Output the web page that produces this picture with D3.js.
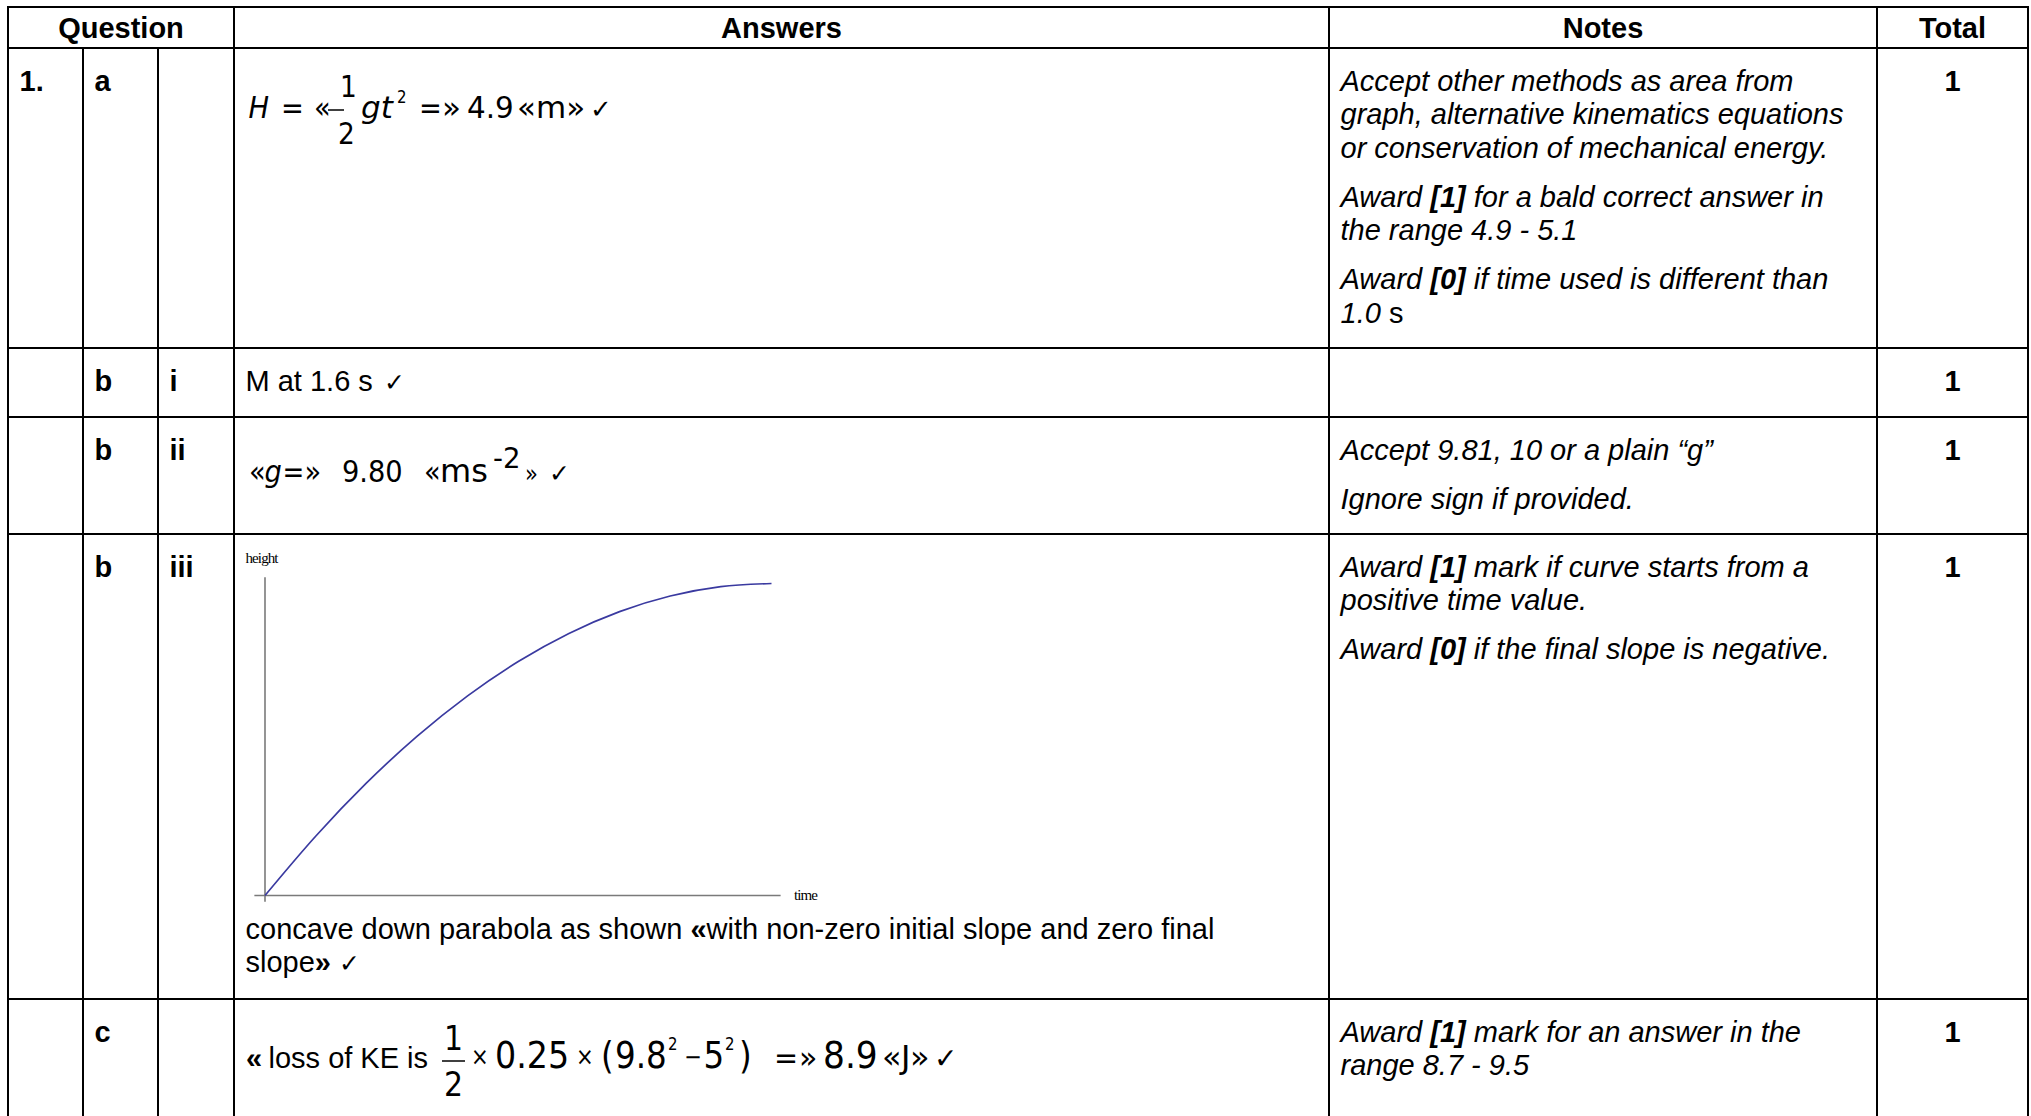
<!DOCTYPE html>
<html>
<head>
<meta charset="utf-8">
<script src="https://cdn.jsdelivr.net/npm/d3@7"></script>
<style>
  body { margin: 0; background: #fff; }
  svg { display: block; }
</style>
</head>
<body>
<script>
// ---------------- data ----------------
const headers = ["Question", "Answers", "Notes", "Total"];
const questionNumbers = ["1.", "", "", "", ""];
const parts = ["a", "b", "b", "b", "c"];
const subparts = ["", "i", "ii", "iii", ""];
const totals = [1, 1, 1, 1, 1];

// notes: paragraphs -> lines  (**bold**, __upright__)
const notesA = [
  ["Accept other methods as area from", "graph, alternative kinematics equations", "or conservation of mechanical energy."],
  ["Award **[1]** for a bald correct answer in", "the range 4.9 - 5.1"],
  ["Award **[0]** if time used is different than", "1.0 __s__"]
];
const notesBi = [];
const notesBii = [["Accept 9.81, 10 or a plain “g”"], ["Ignore sign if provided."]];
const notesBiii = [["Award **[1]** mark if curve starts from a", "positive time value."], ["Award **[0]** if the final slope is negative."]];
const notesC = [["Award **[1]** mark for an answer in the", "range 8.7 - 9.5"]];
const notesAll = [notesA, notesBi, notesBii, notesBiii, notesC];

const answerBi = "M at 1.6 s";
const answerBiiiLines = ["concave down parabola as shown **«**with non-zero initial slope and zero final", "slope**»** ✓"];

// sketch graph (b iii): time vs height
const graphTime = [0, 1, 2, 3, 4, 5, 6, 7, 8, 9, 10];
const graphHeight = [0, 1.9, 3.6, 5.1, 6.4, 7.5, 8.4, 9.1, 9.6, 9.9, 10];
const graphLabels = ["height", "time"];

// ---------------- layout ----------------
const W = 2031, H = 1116;
const colX = [8, 83, 158, 234, 1329, 1877, 2028];
const rowTop = [48, 348, 417, 534, 999];
const tableTop = 7;
const FS = 29;
const sans = "'Liberation Sans', Arial, sans-serif";
const math = "'DejaVu Sans', Verdana, sans-serif";
const serif = "'Liberation Serif', 'Times New Roman', serif";

const svg = d3.select("body").append("svg").attr("width", W).attr("height", H);
svg.append("rect").attr("width", W).attr("height", H).attr("fill", "#fff");

const grid = svg.append("g").attr("stroke", "#000").attr("stroke-width", 2).attr("shape-rendering", "crispEdges");
[tableTop, ...rowTop].forEach(y => {
  grid.append("line").attr("x1", colX[0] - 1).attr("x2", colX[6] + 1).attr("y1", y).attr("y2", y);
});
colX.forEach((x, i) => {
  const y1 = (i === 1 || i === 2) ? rowTop[0] : tableTop;
  grid.append("line").attr("x1", x).attr("x2", x).attr("y1", y1 - 1).attr("y2", H);
});

// header
const headerCenters = [(colX[0] + colX[3]) / 2, (colX[3] + colX[4]) / 2, (colX[4] + colX[5]) / 2, (colX[5] + colX[6]) / 2];
svg.append("g").selectAll("text").data(headers).join("text")
  .attr("x", (d, i) => headerCenters[i]).attr("y", 37.5)
  .attr("text-anchor", "middle").attr("font-family", sans).attr("font-size", FS).attr("font-weight", "bold")
  .text(d => d);

const BASE = 43;
const qg = svg.append("g").attr("font-family", sans).attr("font-size", FS).attr("font-weight", "bold");
rowTop.forEach((t, i) => {
  qg.append("text").attr("x", colX[0] + 11.5).attr("y", t + BASE).text(questionNumbers[i]);
  qg.append("text").attr("x", colX[1] + 11.5).attr("y", t + BASE).text(parts[i]);
  qg.append("text").attr("x", colX[2] + 11.5).attr("y", t + BASE).text(subparts[i]);
  qg.append("text").attr("x", headerCenters[3]).attr("y", t + BASE).attr("text-anchor", "middle").text(totals[i]);
});

// rich text helper
function rich(g, x, y, str, italic) {
  const t = g.append("text").attr("x", x).attr("y", y).attr("font-family", sans).attr("font-size", FS)
    .attr("font-style", italic ? "italic" : "normal").attr("xml:space", "preserve");
  const segs = str.split(/(\*\*[^*]+\*\*|__[^_]+__)/).filter(s => s.length);
  segs.forEach(s => {
    if (s.startsWith("**")) t.append("tspan").attr("font-weight", "bold").text(s.slice(2, -2));
    else if (s.startsWith("__")) t.append("tspan").attr("font-style", "normal").text(s.slice(2, -2));
    else if (s.includes("✓")) {
      const p2 = s.split("✓");
      p2.forEach((p, k) => {
        if (p) t.append("tspan").text(p);
        if (k < p2.length - 1) t.append("tspan").attr("font-family", math).attr("font-size", 25).text("✓");
      });
    }
    else t.append("tspan").text(s);
  });
  return t;
}

// notes
const LH = 33.4, PG = 15.6;
const ng = svg.append("g");
notesAll.forEach((paras, i) => {
  let y = rowTop[i] + BASE;
  paras.forEach(lines => {
    lines.forEach(line => { rich(ng, colX[4] + 11.5, y, line, true); y += LH; });
    y += PG;
  });
});

// ---------------- answers ----------------
const ag = svg.append("g");
function mt(x, y, s, size, opts = {}) {
  const sx = opts.sx == null ? 0.88 : opts.sx;
  return ag.append("text")
    .attr("transform", `translate(${x},${y}) scale(${sx},1)`)
    .attr("font-family", opts.family || math).attr("font-size", size)
    .attr("font-style", opts.italic ? "italic" : "normal")
    .attr("font-weight", opts.bold ? "bold" : "normal")
    .attr("text-anchor", opts.anchor || "start").text(s);
}
function bar(x1, x2, y) {
  ag.append("line").attr("x1", x1).attr("x2", x2).attr("y1", y).attr("y2", y).attr("stroke", "#000").attr("stroke-width", 1.5);
}

// row a : H = «½gt² =» 4.9 «m» ✓
{
  const b = 118.3, s = 31;
  mt(248.5, b, "H", s, { italic: true });
  mt(281, b, "=", s);
  mt(314, b, "«", s);
  bar(328, 344, 110);
  mt(348.5, 97, "1", 30, { anchor: "middle" });
  mt(346.5, 143.5, "2", 30, { anchor: "middle" });
  mt(361, b, "gt", s, { italic: true, sx: 1 });
  mt(397, 102.5, "2", 17);
  mt(419, b, "=", s, { sx: 0.88 });
  mt(442, b, "»", s, { sx: 1 });
  mt(467, b, "4.9", s, { sx: 0.95 });
  mt(517, b, "«m»", s, { sx: 1.0 });
  mt(590, b, "✓", 26, { sx: 1 });
}

// row b i
{
  const b = rowTop[1] + BASE;
  ag.append("text").attr("x", colX[3] + 11.5).attr("y", b).attr("font-family", sans).attr("font-size", FS).text(answerBi);
  mt(384, b, "✓", 25, { sx: 1 });
}

// row b ii : «g=» 9.80 «ms-2» ✓
{
  const b = 481.7, s = 31;
  mt(249, b, "«", s);
  mt(264.5, b, "g", s, { italic: true });
  mt(282.5, b, "=", s, { sx: 0.84 });
  mt(304.5, b, "»", s);
  mt(342, b, "9.80", s);
  mt(424, b, "«", s);
  mt(440, b, "ms", 32, { sx: 1 });
  mt(493, 467.5, "-2", 29, { sx: 0.95 });
  mt(525, b, "»", 24);
  mt(549, b, "✓", 25, { sx: 1 });
}

// row b iii : sketch graph
{
  const x = d3.scaleLinear().domain([0, 10]).range([265, 771.5]);
  const y = d3.scaleLinear().domain([0, 10]).range([895.5, 583.5]);
  const gg = svg.append("g");
  gg.append("line").attr("x1", x(-0.21)).attr("x2", x(10.18)).attr("y1", y(0)).attr("y2", y(0))
    .attr("stroke", "#7a7a7a").attr("stroke-width", 1.6);
  gg.append("line").attr("x1", x(0)).attr("x2", x(0)).attr("y1", y(10.2)).attr("y2", y(-0.2))
    .attr("stroke", "#7a7a7a").attr("stroke-width", 1.6);
  const line = d3.line().x((d, i) => x(graphTime[i])).y(d => y(d)).curve(d3.curveMonotoneX);
  gg.append("path").attr("d", line(graphHeight)).attr("fill", "none").attr("stroke", "#3a3aa0").attr("stroke-width", 1.7);
  gg.append("text").attr("x", 245.5).attr("y", 563).attr("font-family", serif).attr("font-size", 15)
    .attr("letter-spacing", -0.9).text(graphLabels[0]);
  gg.append("text").attr("x", 794).attr("y", 900).attr("font-family", serif).attr("font-size", 15)
    .attr("letter-spacing", -0.9).text(graphLabels[1]);
  answerBiiiLines.forEach((l, i) => rich(ag, colX[3] + 11.5, 939 + i * LH, l, false));
}

// row c : « loss of KE is ½ × 0.25 × (9.8² − 5²) =» 8.9 «J» ✓
{
  const b = 1068, s = 37;
  mt(246, b, "«", FS, { family: sans, bold: true, sx: 1 });
  mt(268.5, b, "loss of KE is", FS, { family: sans, sx: 1 });
  mt(453.5, 1050, "1", 34, { anchor: "middle" });
  bar(442, 465, 1061);
  mt(453.5, 1096, "2", 34, { anchor: "middle" });
  mt(471, b - 3, "×", 24);
  mt(495, b, "0.25", s, { sx: 0.9 });
  mt(576, b - 3, "×", 24);
  mt(601, b, "(", s);
  mt(615, b, "9.8", s);
  mt(668, 1050, "2", 17);
  mt(684, b - 3, "−", 24);
  mt(703.5, b, "5", s);
  mt(725, 1050, "2", 17);
  mt(739, b, ")", s);
  mt(774, b, "=", 30, { sx: 0.96 });
  mt(799, b, "»", 30, { sx: 1 });
  mt(823, b, "8.9", s, { sx: 0.93 });
  mt(882, b, "«J»", 32, { sx: 1 });
  mt(934, b, "✓", 28, { sx: 1 });
}
</script>
</body>
</html>
